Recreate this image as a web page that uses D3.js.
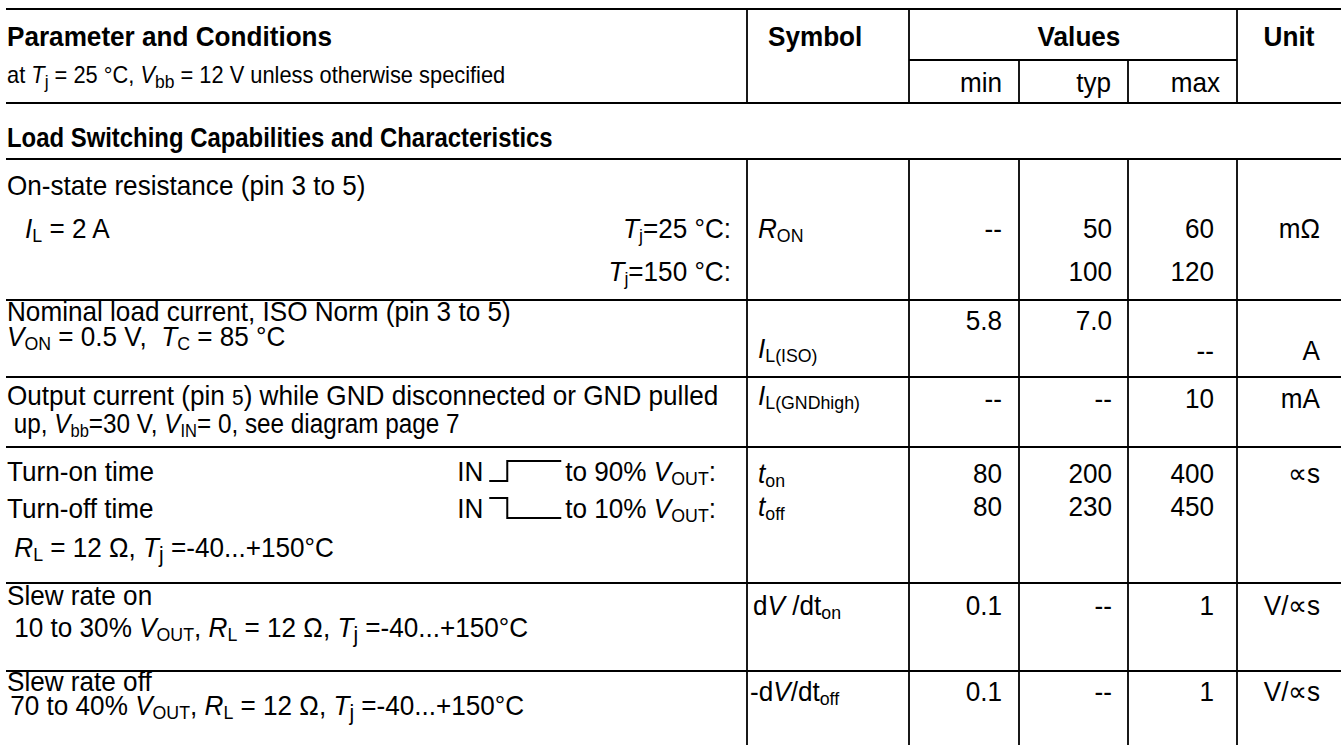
<!DOCTYPE html>
<html>
<head>
<meta charset="utf-8">
<script src="https://cdn.jsdelivr.net/npm/d3@7/dist/d3.min.js"></script>
<style>
  html, body { margin: 0; padding: 0; background: #fff; }
  svg { display: block; }
  text { font-family: "Liberation Sans", Arial, Helvetica, sans-serif; fill: #000; }
</style>
</head>
<body>
<svg id="chart" width="1341" height="745"></svg>
<script>
// ---------------- DATA ----------------
// Rich-text pieces are separated by "|"; the first char of a piece is its style code:
// n normal, i italic, s subscript, S large subscript, q small
const headerLabels = ["Parameter and Conditions", "Symbol", "Values", "Unit"];
const valueHeaders = ["min", "typ", "max"];
const conditionNote = "nat |iT|Sj|n = 25 °C, |iV|Sbb|n = 12 V unless otherwise specified";
const sectionTitle = "Load Switching Capabilities and Characteristics";

const paramLines = [
  ["nOn-state resistance (pin 3 to 5)", "iI|sL|n = 2 A"],
  ["nNominal load current, ISO Norm (pin 3 to 5)", "iV|sON|n = 0.5 V,  |iT|sC|n = 85 °C"],
  ["nOutput current (pin |q5|n) while GND disconnected or GND pulled", "n up, |iV|sbb|n=30 V, |iV|sIN|n= 0, see diagram page 7"],
  ["nTurn-on time", "nTurn-off time", "n |iR|sL|n = 12 Ω, |iT|Sj|n =-40...+150°C"],
  ["nSlew rate on", "n 10 to 30% |iV|sOUT|n, |iR|sL|n = 12 Ω, |iT|Sj|n =-40...+150°C"],
  ["nSlew rate off", "n 70 to 40% |iV|sOUT|n, |iR|sL|n = 12 Ω, |iT|Sj|n =-40...+150°C"]
];
// right-aligned conditions inside the parameter column
const sideConditions = [
  { row: 0, line: 1, text: "iT|sj|n=25 °C:" },
  { row: 0, line: 2, text: "iT|sj|n=150 °C:" },
  { row: 3, line: 0, text: "nto 90% |iV|sOUT|n:", step: "on" },
  { row: 3, line: 1, text: "nto 10% |iV|sOUT|n:", step: "off" }
];
const symbols = [
  ["iR|sON"],
  ["", "iI|sL(ISO)"],
  ["iI|sL(GNDhigh)"],
  ["it|son", "it|soff"],
  ["nd|iV|n /dt|son"],
  ["n-d|iV|n/dt|soff"]
];
const minValues = [["--", ""], ["5.8", ""], ["--"], ["80", "80"], ["0.1"], ["0.1"]];
const typValues = [["50", "100"], ["7.0", ""], ["--"], ["200", "230"], ["--"], ["--"]];
const maxValues = [["60", "120"], ["", "--"], ["10"], ["400", "450"], ["1"], ["1"]];
const units = [["mΩ", ""], ["", "A"], ["mA"], ["∝s", ""], ["V/∝s"], ["V/∝s"]];

// ---------------- LAYOUT ----------------
const W = 1341, H = 745;
const FS = 27.5, SX = 0.95;
const colKeys = ["param", "symbol", "min", "typ", "max", "unit"];
const colLeft = d3.scaleOrdinal().domain(colKeys).range([6, 747, 909, 1019, 1128, 1237]);
const colRight = d3.scaleOrdinal().domain(colKeys).range([747, 909, 1019, 1128, 1237, 1341]);
const layout = {
  topLine: 9, valuesLine: 60, headBottom: 103, sectionLine: 159,
  rowLines: [300, 377, 447, 583, 671],
  titleBase: 46, noteBase: 83, subHeadBase: 92, sectionBase: 147,
  paramBase: [[195, 238, 281], [321, 346], [405, 433], [481, 518, 557], [605, 637], [691, 715]],
  paramX: [[7, 25], [7, 7], [7, 7], [7, 7, 7], [7, 7], [7, 3]],
  paramSX: [[1, 1], [1, 1], [1, 0.93], [1, 1, 1], [1, 1], [1, 1]],
  valueBase: [[238, 281], [330, 360], [408], [483, 516], [615], [701]],
  symbolBase: [[238], [330, 358], [405], [483, 516], [615], [701]],
  sideRightTj: 731, sideRightStep: 716,
  valuePad: { min: 17, typ: 16, max: 23 }, unitRight: 1320
};
const yScale = d3.scaleLinear().domain([0, H]).range([0, H]);

const svg = d3.select("#chart");

function rich(parent, spec, x, y, opts) {
  const o = Object.assign({ anchor: "start", size: FS, weight: "normal", sx: 1 }, opts || {});
  const t = parent.append("text")
    .attr("transform", `translate(${x},${yScale(y)}) scale(${SX * o.sx},1)`)
    .attr("text-anchor", o.anchor)
    .attr("font-size", o.size)
    .attr("font-weight", o.weight)
    .attr("xml:space", "preserve")
    .style("white-space", "pre");
  let shift = 0;
  spec.split("|").forEach(p => {
    if (!p.length) return;
    const code = p[0], txt = p.slice(1);
    const ts = t.append("tspan").text(txt);
    let target = 0, fs = o.size;
    if (code === "i") ts.attr("font-style", "italic");
    if (code === "s") { fs = o.size * 0.68; target = 4; }
    if (code === "S") { fs = o.size * 0.8; target = 5; }
    if (code === "q") { fs = o.size * 0.8; }
    ts.attr("font-size", fs);
    if (target !== shift) { ts.attr("dy", target - shift); shift = target; }
  });
  return t;
}

// ---------------- LINES ----------------
const lineG = svg.append("g").attr("stroke", "#000").attr("stroke-width", 2.2).attr("fill", "none");
const hLines = [layout.topLine, layout.headBottom, layout.sectionLine].concat(layout.rowLines);
lineG.selectAll("line.h").data(hLines).enter().append("line")
  .attr("x1", 6).attr("x2", W).attr("y1", d => yScale(d)).attr("y2", d => yScale(d));
lineG.append("line").attr("x1", colLeft("min")).attr("x2", colLeft("unit"))
  .attr("y1", layout.valuesLine).attr("y2", layout.valuesLine).attr("stroke-width", 1.8);
// header verticals
[["symbol", layout.topLine], ["min", layout.topLine], ["typ", layout.valuesLine], ["max", layout.valuesLine], ["unit", layout.topLine]]
  .forEach(([k, y0]) => {
    lineG.append("line").attr("x1", colLeft(k)).attr("x2", colLeft(k))
      .attr("y1", yScale(y0)).attr("y2", yScale(layout.headBottom)).attr("stroke-width", 1.8);
  });
// body verticals
["symbol", "min", "typ", "max", "unit"].forEach(k => {
  lineG.append("line").attr("x1", colLeft(k)).attr("x2", colLeft(k))
    .attr("y1", yScale(layout.sectionLine)).attr("y2", H).attr("stroke-width", 1.8);
});

// ---------------- HEADER ----------------
const tg = svg.append("g");
rich(tg, "n" + headerLabels[0], 7, layout.titleBase, { weight: "bold" });
rich(tg, "n" + headerLabels[1], 768, layout.titleBase, { weight: "bold" });
rich(tg, "n" + headerLabels[2], (colLeft("min") + colRight("max")) / 2 + 6, layout.titleBase, { weight: "bold", anchor: "middle" });
rich(tg, "n" + headerLabels[3], (colLeft("unit") + colRight("unit")) / 2, layout.titleBase, { weight: "bold", anchor: "middle" });
rich(tg, conditionNote, 7, layout.noteBase, { size: 23 });
["min", "typ", "max"].forEach((k, i) => {
  rich(tg, "n" + valueHeaders[i], colRight(k) - 17, layout.subHeadBase, { anchor: "end" });
});
rich(tg, "n" + sectionTitle, 7, layout.sectionBase, { weight: "bold", sx: 0.915 });

// ---------------- BODY ----------------
paramLines.forEach((lines, r) => {
  lines.forEach((spec, l) => {
    rich(tg, spec, layout.paramX[r][l], layout.paramBase[r][l], { sx: layout.paramSX[r][l] });
  });
});

sideConditions.forEach(c => {
  const y = layout.paramBase[c.row][c.line];
  const right = c.step ? layout.sideRightStep : layout.sideRightTj;
  const t = rich(tg, c.text, right, y, { anchor: "end" });
  if (c.step) {
    const w = t.node().getBBox().width * SX;
    const sRight = right - w - 4;
    const sLeft = sRight - 72;
    const h = 20;
    const d = c.step === "on"
      ? `M${sLeft},${y} H${sLeft + 18} V${y - h} H${sRight}`
      : `M${sLeft},${y - h} H${sLeft + 18} V${y} H${sRight}`;
    tg.append("path").attr("d", d).attr("fill", "none").attr("stroke", "#000").attr("stroke-width", 2);
    rich(tg, "nIN", sLeft - 6, y, { anchor: "end" });
  }
});

symbols.forEach((lines, r) => {
  lines.forEach((spec, l) => {
    if (!spec) return;
    const x = spec.startsWith("n-") ? 750 : (spec.startsWith("nd") ? 753 : 758);
    rich(tg, spec, x, layout.symbolBase[r][l]);
  });
});

[["min", minValues], ["typ", typValues], ["max", maxValues]].forEach(([k, arr]) => {
  arr.forEach((lines, r) => {
    lines.forEach((v, l) => {
      if (!v) return;
      rich(tg, "n" + v, colRight(k) - layout.valuePad[k], layout.valueBase[r][l], { anchor: "end" });
    });
  });
});
units.forEach((lines, r) => {
  lines.forEach((v, l) => {
    if (!v) return;
    rich(tg, "n" + v, layout.unitRight, layout.valueBase[r][l], { anchor: "end" });
  });
});
</script>
</body>
</html>
